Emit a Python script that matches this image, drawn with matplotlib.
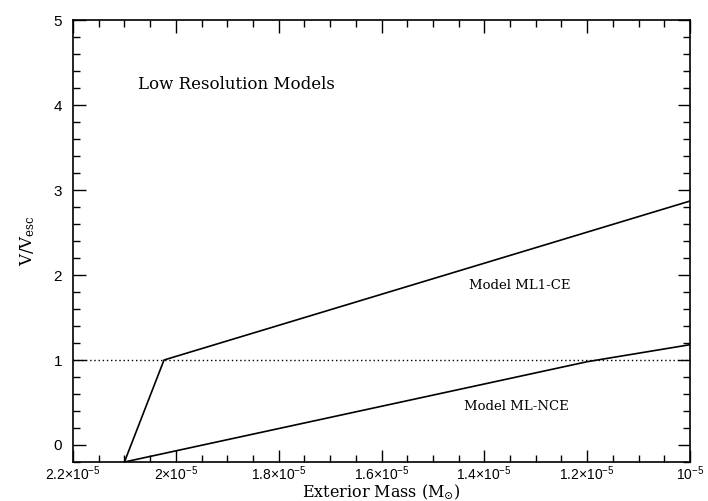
import matplotlib
matplotlib.use("Agg")
import matplotlib.pyplot as plt
from matplotlib.ticker import MultipleLocator

# model curves (exterior mass in Msun, V/Vesc)
ce_mass = [2.1e-5, 2.023e-5, 1.0e-5]
ce_vel = [-0.2, 1.0, 2.87]
nce_mass = [2.1e-5, 1.2e-5, 1.0e-5]
nce_vel = [-0.2, 0.98, 1.18]

x_ticks = [2.2e-5, 2.0e-5, 1.8e-5, 1.6e-5, 1.4e-5, 1.2e-5, 1.0e-5]
x_ticklabels = [r'2.2$\times$10$^{-5}$', r'2$\times$10$^{-5}$', r'1.8$\times$10$^{-5}$',
                r'1.6$\times$10$^{-5}$', r'1.4$\times$10$^{-5}$', r'1.2$\times$10$^{-5}$',
                r'10$^{-5}$']

plt.rcParams['mathtext.default'] = 'regular'

fig = plt.figure(figsize=(7.08, 5.01), dpi=100)
ax = fig.add_axes([73 / 708, 1 - 462 / 501, (690 - 73) / 708, (462 - 20) / 501])

ax.plot(ce_mass, ce_vel, color='black', lw=1.2)
ax.plot(nce_mass, nce_vel, color='black', lw=1.2)
ax.axhline(1.0, color='black', lw=1.0, ls=(0, (1, 2)))

ax.set_xlim(2.2e-5, 1.0e-5)
ax.set_ylim(-0.2, 5)

ax.set_xticks(x_ticks)
ax.set_xticklabels(x_ticklabels, fontsize=10, family='Liberation Sans')
ax.xaxis.set_minor_locator(MultipleLocator(0.05e-5))
ax.yaxis.set_major_locator(MultipleLocator(1))
ax.yaxis.set_minor_locator(MultipleLocator(0.2))
for lab in ax.get_yticklabels():
    lab.set_fontfamily('Liberation Sans')
    lab.set_fontsize(11)

ax.tick_params(which='both', direction='in', top=True, right=True, width=1.0)
ax.tick_params(which='major', length=9)
ax.tick_params(axis='x', which='major', pad=2)
ax.tick_params(axis='y', which='major', pad=8)
ax.tick_params(which='minor', length=5)
for s in ax.spines.values():
    s.set_linewidth(1.2)

ax.set_xlabel(r'Exterior Mass (M$_{\odot}$)', family='DejaVu Serif', fontsize=11.5, labelpad=-0.5)
ax.set_ylabel(r'V/V$_{esc}$', family='DejaVu Serif', fontsize=12, labelpad=12)

ax.text(2.074e-5, 4.24, 'Low Resolution Models', family='DejaVu Serif', fontsize=12, va='center')
ax.text(1.429e-5, 1.88, 'Model ML1-CE', family='DejaVu Serif', fontsize=9.5, va='center')
ax.text(1.439e-5, 0.45, 'Model ML-NCE', family='DejaVu Serif', fontsize=9.5, va='center')

fig.savefig('out.png', dpi=100)
